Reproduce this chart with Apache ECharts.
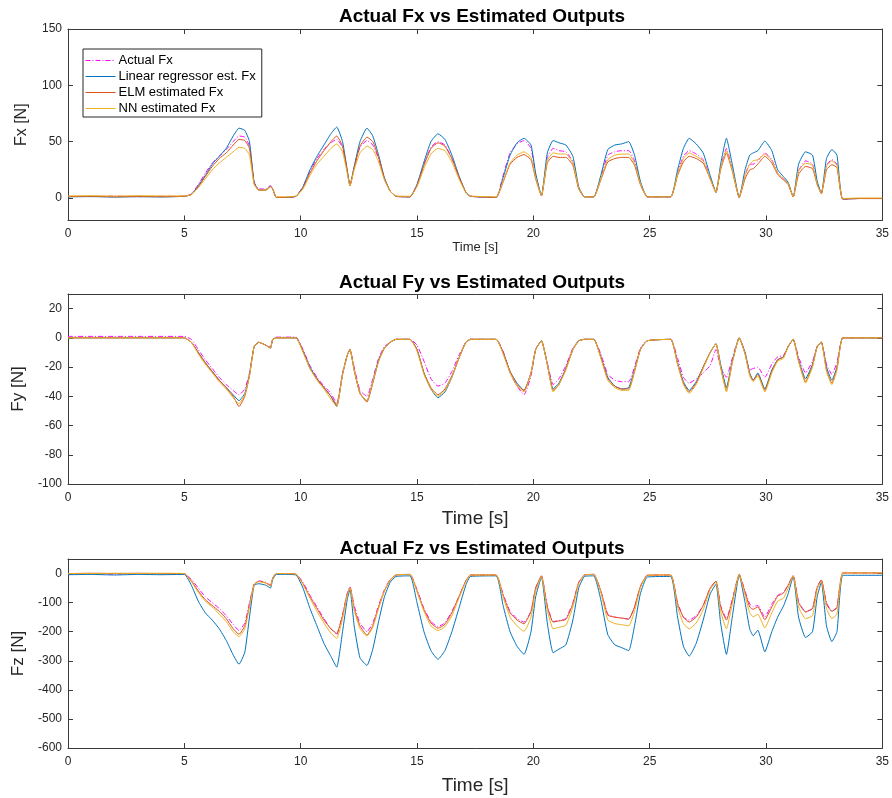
<!DOCTYPE html>
<html>
<head>
<meta charset="utf-8">
<script src="https://cdn.jsdelivr.net/npm/echarts@6/dist/echarts.min.js"></script>
<style>
  html, body { margin: 0; padding: 0; background: #fff; }
  #chart { width: 892px; height: 798px; }
</style>
</head>
<body>
<div id="chart"></div>
<script>
// Sample times [s] shared by every force trace
const time = [
  0, 1, 2, 3, 4, 5.0, 5.3, 5.6, 5.9, 6.2,
  6.5, 6.8, 7.1, 7.35, 7.6, 7.8, 8.0, 8.2, 8.5, 8.7,
  8.8, 8.95, 9.3, 9.8, 10.1, 10.4, 10.7, 11.0, 11.3, 11.55,
  11.8, 12.0, 12.12, 12.3, 12.55, 12.85, 13.1, 13.35, 13.6, 13.85,
  14.1, 14.7, 15.0, 15.3, 15.6, 15.9, 16.2, 16.5, 16.8, 17.1,
  17.3, 18.4, 18.7, 19.0, 19.3, 19.6, 19.9, 20.1, 20.35, 20.6,
  20.85, 21.1, 21.4, 21.7, 21.95, 22.2, 22.6, 22.9, 23.2, 23.5,
  23.8, 24.1, 24.35, 24.6, 24.9, 25.9, 26.2, 26.45, 26.7, 27.0,
  27.3, 27.6, 27.85, 28.05, 28.3, 28.55, 28.85, 29.1, 29.3, 29.45,
  29.65, 29.95, 30.25, 30.5, 30.75, 30.95, 31.17, 31.4, 31.7, 32.0,
  32.2, 32.38, 32.6, 32.83, 33.05, 33.3, 34, 35
];

// ---- Fx [N] ----
const fxActual = [
  1.5, 1.3, 1.6, 1.2, 1.5, 1.5, 3.5, 12, 22, 31,
  37, 43, 50, 55, 54, 46, 14, 8, 8, 11,
  8, 0.5, 0.5, 1.5, 10, 24, 35, 43, 49, 52,
  45, 24, 11, 27, 45, 51, 47, 35, 17, 6,
  1.5, 1, 12, 30, 45, 50, 47, 35, 19, 5,
  1.5, 0.5, 20, 40, 48, 51, 44, 20, 2, 36,
  44, 42, 41, 32, 9, 1, 1, 18, 38, 41,
  42, 42, 33, 13, 1, 1, 22, 37, 42, 39,
  34, 18, 5, 27, 44, 26, 0.5, 20, 30, 30,
  33, 40, 34, 22, 17, 13, 1, 24, 33, 30,
  13, 4, 29, 34, 30, -1, -0.5, -0.5
];
const fxLinear = [
  1.0, 1.2, 0.8, 1.1, 0.9, 1.5, 3, 11, 20, 30,
  37, 44, 55, 62, 60, 50, 14, 7, 7, 10.5,
  8, 0.5, 0.5, 1.5, 10, 25, 37, 47, 57, 63,
  50, 25, 11, 28, 50, 62, 55, 38, 18, 6,
  1.5, 1, 12, 32, 50, 57, 52, 38, 20, 5,
  1.5, 0.5, 18, 38, 49, 53, 47, 22, 2, 40,
  51, 49, 47, 37, 10, 1, 1, 20, 43, 47,
  48, 50, 38, 15, 1, 1, 25, 44, 53, 48,
  40, 20, 5, 30, 53, 30, 0.5, 25, 38, 40,
  42, 50.5, 42, 25, 19, 14, 1, 30, 41, 38,
  15, 4, 35, 43, 38, -1, -0.5, -0.5
];
const fxElm = [
  1.2, 1.5, 1.0, 1.4, 1.1, 1.5, 3, 10, 19, 28,
  35, 40, 47, 52, 51, 44, 13, 7, 7, 10,
  8, 0.5, 0.5, 1.5, 9, 22, 33, 42, 50, 55,
  46, 24, 11, 27, 46, 54, 50, 36, 17, 6,
  1.5, 1, 11, 29, 44, 49, 46, 35, 19, 5,
  1.5, 0.5, 14, 30, 36, 38.5, 34, 17, 2, 31,
  37, 36, 36, 29, 8, 1, 1, 16, 32, 35,
  36, 36, 29, 12, 1, 1, 20, 32, 37, 35,
  31, 17, 5, 25, 40, 24, 0.5, 17, 25, 26,
  30, 37, 31, 21, 16, 12, 1, 21, 28, 26,
  12, 4, 25, 29.5, 27, -1, -0.5, -0.5
];
const fxNn = [
  1.8, 2.0, 1.7, 2.0, 1.8, 1.8, 3, 9, 17, 25,
  31, 36, 41, 45, 44, 38, 12, 7, 7, 10,
  8, 1, 1, 1.8, 8, 20, 30, 37, 44, 48,
  41, 22, 11, 25, 40, 46, 43, 32, 16, 6,
  1.8, 1.5, 10, 26, 39, 44, 42, 32, 17, 5,
  1.8, 1, 15, 31, 38, 41, 36, 18, 2, 33,
  40, 39, 39, 31, 9, 1, 1, 17, 34, 38,
  39, 39, 31, 13, 1, 1, 21, 35, 40, 37,
  33, 17, 5, 26, 42, 25, 0.5, 20, 30, 33,
  34, 39, 33, 22, 17, 13, 1, 24, 31, 29,
  12, 4, 28, 33, 29, -0.5, 0, 0
];

// ---- Fy [N] ----
const fyActual = [
  1, 1, 1, 1, 1, 1, -1, -8, -15, -21,
  -27, -32, -36, -39, -35, -24, -6, -3, -5, -6,
  -1, 0.5, 0.5, 0.5, -8, -19, -27, -33, -38, -45,
  -24, -12, -8, -20, -36, -40, -28, -14, -6, -3,
  -1, -1, -5, -16, -28, -33, -31, -23, -12, -3,
  -1, -1, -9, -24, -33, -39, -26, -8, -2, -17,
  -32, -28, -19, -7, -2, -1, -1, -11, -25, -29,
  -30, -30, -20, -7, -2, -1, -14, -27, -31, -28,
  -24, -19, -8, -20, -27, -14, 0, -10, -22, -21,
  -20, -27, -18, -13, -12, -6, -1, -13, -24, -16,
  -6, -3, -18, -25, -17, 0, 0, 0
];
const fyLinear = [
  0, 0, 0, 0, 0, 0, -3, -10, -17, -23,
  -29, -34, -39, -43, -38, -25, -6, -3, -5, -7,
  -1, 0, 0, 0, -9, -20, -28, -34, -40, -47,
  -25, -12, -8, -22, -38, -43, -30, -15, -7, -3,
  -1, -1, -8, -24, -35, -41, -37, -27, -14, -3,
  -1, -1, -10, -23, -31, -36, -24, -8, -2, -18,
  -35, -31, -21, -8, -2, -1, -1, -13, -27, -33,
  -35, -34, -22, -8, -2, -1, -17, -30, -36, -30,
  -20, -10, -4, -18, -34, -16, 0, -10, -24, -29,
  -24, -35, -22, -15, -13, -6, -1, -15, -28, -18,
  -6, -3, -20, -29, -20, 0, 0, 0
];
const fyElm = [
  0, 0, 0, 0, 0, 0, -3, -10, -17, -23,
  -29, -34, -40, -47, -40, -26, -6, -3, -5, -7,
  -1, 0, 0, 0, -9, -21, -28, -34, -40, -46,
  -25, -12, -8, -22, -38, -44, -31, -16, -7, -3,
  -1, -1, -8, -24, -34, -39, -35, -26, -14, -3,
  -1, -1, -10, -23, -32, -36, -24, -8, -2, -18,
  -36, -32, -21, -8, -2, -1, -1, -13, -28, -33,
  -35, -35, -23, -8, -2, -1, -18, -31, -37, -31,
  -20, -10, -4, -20, -36, -17, 0, -11, -25, -29,
  -25, -36, -23, -15, -13, -6, -1, -16, -30, -19,
  -6, -3, -22, -31, -21, 0, 0, 0
];
const fyNn = [
  0, 0, 0, 0, 0, 0, -3, -11, -18, -24,
  -30, -35, -41, -45, -39, -26, -6, -3, -5, -7,
  -1, 0, 0, 0, -10, -21, -29, -35, -42, -47,
  -25, -12, -8, -22, -38, -43, -30, -16, -7, -3,
  -1, -1, -9, -25, -35, -40, -36, -27, -14, -3,
  -1, -1, -11, -24, -33, -37, -24, -8, -2, -18,
  -37, -32, -22, -8, -2, -1, -1, -14, -29, -34,
  -36, -36, -23, -8, -2, -1, -18, -32, -38, -32,
  -21, -10, -4, -20, -37, -17, 0, -11, -26, -30,
  -26, -37, -24, -16, -14, -6, -1, -16, -31, -20,
  -6, -3, -23, -32, -22, 0, 0, 0
];

// ---- Fz [N] ----
const fzActual = [
  -2, -1, -2, 0, -1, -2, -20, -50, -80, -100,
  -120, -145, -175, -196, -170, -100, -37, -25, -30, -40,
  -15, 0, 0, -2, -30, -75, -115, -155, -190, -210,
  -140, -70, -45, -110, -170, -200, -170, -110, -55, -20,
  -5, -3, -55, -120, -165, -182, -170, -130, -80, -25,
  -5, -5, -70, -130, -155, -167, -130, -50, -8, -110,
  -165, -162, -155, -100, -30, -5, -3, -60, -140, -150,
  -153, -157, -115, -45, -6, -5, -100, -150, -160, -145,
  -110, -50, -26, -110, -155, -90, -3, -60, -105, -114,
  -110, -150, -105, -75, -65, -40, -6, -95, -132, -120,
  -45, -22, -100, -130, -115, 2, 2, 2
];
const fzLinear = [
  -4, -3, -5, -3, -4, -3, -40, -95, -135, -160,
  -190, -230, -280, -312, -270, -150, -40, -35, -40, -50,
  -20, -3, -3, -5, -50, -120, -180, -240, -285, -322,
  -200, -90, -55, -180, -290, -316, -260, -165, -80, -30,
  -10, -8, -100, -200, -265, -295, -265, -200, -120, -40,
  -10, -8, -110, -200, -250, -278, -200, -80, -12, -170,
  -272, -260, -245, -160, -50, -10, -8, -90, -210, -245,
  -255, -265, -180, -70, -12, -10, -150, -250, -284, -240,
  -160, -70, -37, -170, -278, -150, -5, -100, -190, -214,
  -195, -269, -200, -150, -112, -70, -10, -150, -220, -200,
  -80, -30, -180, -234, -200, -6, -6, -6
];
const fzElm = [
  0, 1, 0, 1, 0, 0, -25, -60, -90, -110,
  -130, -155, -190, -209, -180, -110, -37, -27, -32, -42,
  -15, 0, 0, -2, -35, -80, -120, -160, -190, -206,
  -145, -70, -48, -120, -180, -212, -180, -115, -60, -22,
  -5, -3, -60, -125, -170, -188, -175, -135, -80, -25,
  -5, -5, -75, -135, -160, -173, -130, -50, -8, -115,
  -167, -163, -158, -105, -32, -5, -3, -60, -143, -150,
  -153, -157, -115, -45, -6, -5, -105, -150, -167, -150,
  -110, -50, -26, -115, -160, -95, -3, -65, -115, -123,
  -115, -159, -115, -78, -67, -40, -8, -100, -132, -120,
  -48, -22, -105, -130, -118, 2, 2, 2
];
const fzNn = [
  0, 0, 1, 0, 1, 0, -28, -65, -95, -115,
  -140, -165, -200, -217, -190, -115, -40, -28, -33, -43,
  -15, 0, 0, -2, -38, -85, -130, -170, -205, -223,
  -155, -75, -50, -125, -190, -215, -185, -120, -60, -22,
  -5, -3, -62, -130, -180, -196, -183, -145, -85, -28,
  -5, -5, -80, -150, -180, -199, -150, -60, -10, -125,
  -190, -185, -178, -115, -35, -5, -3, -65, -160, -172,
  -176, -180, -130, -50, -6, -5, -115, -172, -190, -170,
  -125, -55, -30, -130, -190, -105, -3, -75, -135, -149,
  -140, -187, -135, -95, -85, -50, -8, -115, -155, -145,
  -55, -26, -120, -155, -140, 2, 2, 2
];

// Axis ranges and tick labels per panel
const timeTicks = [0, 5, 10, 15, 20, 25, 30, 35];
const fxTicks = [0, 50, 100, 150];
const fyTicks = [-100, -80, -60, -40, -20, 0, 20];
const fzTicks = [-600, -500, -400, -300, -200, -100, 0];

const seriesNames = ['Actual Fx', 'Linear regressor est. Fx', 'ELM estimated Fx', 'NN estimated Fx'];
const seriesColors = ['#FF00FF', '#0072BD', '#D95319', '#EDB120'];

const panels = [
  { title: 'Actual Fx vs Estimated Outputs', yName: 'Fx [N]', min: -20, max: 150, ticks: fxTicks,
    data: [fxActual, fxLinear, fxElm, fxNn], top: 29, height: 191.5,
    xNameSize: 13, xNameGap: 20, yNameSize: 16, yNameGap: 38, titleTop: 2, labelMargin: 7 },
  { title: 'Actual Fy vs Estimated Outputs', yName: 'Fy [N]', min: -100, max: 30, ticks: fyTicks,
    data: [fyActual, fyLinear, fyElm, fyNn], top: 294, height: 190,
    xNameSize: 19, xNameGap: 25, yNameSize: 17, yNameGap: 41, titleTop: 268, labelMargin: 8 },
  { title: 'Actual Fz vs Estimated Outputs', yName: 'Fz [N]', min: -600, max: 50, ticks: fzTicks,
    data: [fzActual, fzLinear, fzElm, fzNn], top: 559, height: 189,
    xNameSize: 19, xNameGap: 28, yNameSize: 17, yNameGap: 41, titleTop: 534, labelMargin: 8 }
];

const FONT = '"Liberation Sans", Arial, Helvetica, sans-serif';
const AXIS_COLOR = '#3a3a3a';
const LABEL_COLOR = '#262626';

const grid = [], xAxis = [], yAxis = [], series = [], title = [];

panels.forEach((p, i) => {
  grid.push({ left: 68, right: 6, top: p.top, height: p.height, containLabel: false });
  title.push({
    text: p.title, left: 477, top: p.titleTop, textAlign: 'center',
    textStyle: { fontFamily: FONT, fontSize: 19, fontWeight: 'bold', color: '#000' }
  });

  const tickStyle = { show: true, inside: true, length: 5, lineStyle: { color: AXIS_COLOR, width: 1 } };
  const lineStyle = { show: true, onZero: false, lineStyle: { color: AXIS_COLOR, width: 1 } };

  // bottom time axis (labelled) and top mirror (ticks only)
  xAxis.push({
    type: 'value', gridIndex: i, position: 'bottom', min: 0, max: 35,
    axisLine: lineStyle, splitLine: { show: false },
    axisTick: Object.assign({}, tickStyle, { customValues: timeTicks }),
    axisLabel: { fontFamily: FONT, fontSize: 12, color: LABEL_COLOR, margin: p.labelMargin, customValues: timeTicks },
    name: 'Time [s]', nameLocation: 'middle', nameGap: p.xNameGap,
    nameTextStyle: { fontFamily: FONT, fontSize: p.xNameSize, color: LABEL_COLOR }
  });
  xAxis.push({
    type: 'value', gridIndex: i, position: 'top', min: 0, max: 35,
    axisLine: lineStyle, splitLine: { show: false },
    axisTick: Object.assign({}, tickStyle, { customValues: timeTicks }),
    axisLabel: { show: false, customValues: timeTicks }
  });

  // left force axis (labelled) and right mirror (ticks only)
  yAxis.push({
    type: 'value', gridIndex: i, position: 'left', min: p.min, max: p.max,
    axisLine: lineStyle, splitLine: { show: false },
    axisTick: Object.assign({}, tickStyle, { customValues: p.ticks }),
    axisLabel: { fontFamily: FONT, fontSize: 12, color: LABEL_COLOR, margin: 6, customValues: p.ticks },
    name: p.yName, nameLocation: 'middle', nameGap: p.yNameGap, nameRotate: 90,
    nameTextStyle: { fontFamily: FONT, fontSize: p.yNameSize, color: LABEL_COLOR }
  });
  yAxis.push({
    type: 'value', gridIndex: i, position: 'right', min: p.min, max: p.max,
    axisLine: lineStyle, splitLine: { show: false },
    axisTick: Object.assign({}, tickStyle, { customValues: p.ticks }),
    axisLabel: { show: false, customValues: p.ticks }
  });

  p.data.forEach((vals, k) => {
    series.push({
      type: 'line', name: seriesNames[k],
      xAxisIndex: 2 * i, yAxisIndex: 2 * i,
      data: time.map((t, j) => [t, vals[j]]),
      symbol: 'none', showSymbol: false, silent: true,
      smooth: 0.15,
      color: seriesColors[k],
      lineStyle: { width: 1, color: seriesColors[k], type: k === 0 ? [5, 2, 1, 2] : 'solid' },
      z: 2 + k
    });
  });
});

const chart = echarts.init(document.getElementById('chart'), null, { renderer: 'canvas' });
chart.setOption({
  animation: false,
  backgroundColor: '#ffffff',
  title, grid, xAxis, yAxis, series,
  legend: {
    data: seriesNames, orient: 'vertical', left: 83, top: 49,
    itemWidth: 30, itemHeight: 14, itemGap: 3,
    padding: [5, 6, 2, 2],
    backgroundColor: '#ffffff', borderColor: '#262626', borderWidth: 1,
    selectedMode: false,
    itemStyle: { opacity: 0 },
    lineStyle: { width: 1 },
    textStyle: { fontFamily: FONT, fontSize: 13, color: '#000', padding: [0, 0, 0, -2] }
  }
});
</script>
</body>
</html>
